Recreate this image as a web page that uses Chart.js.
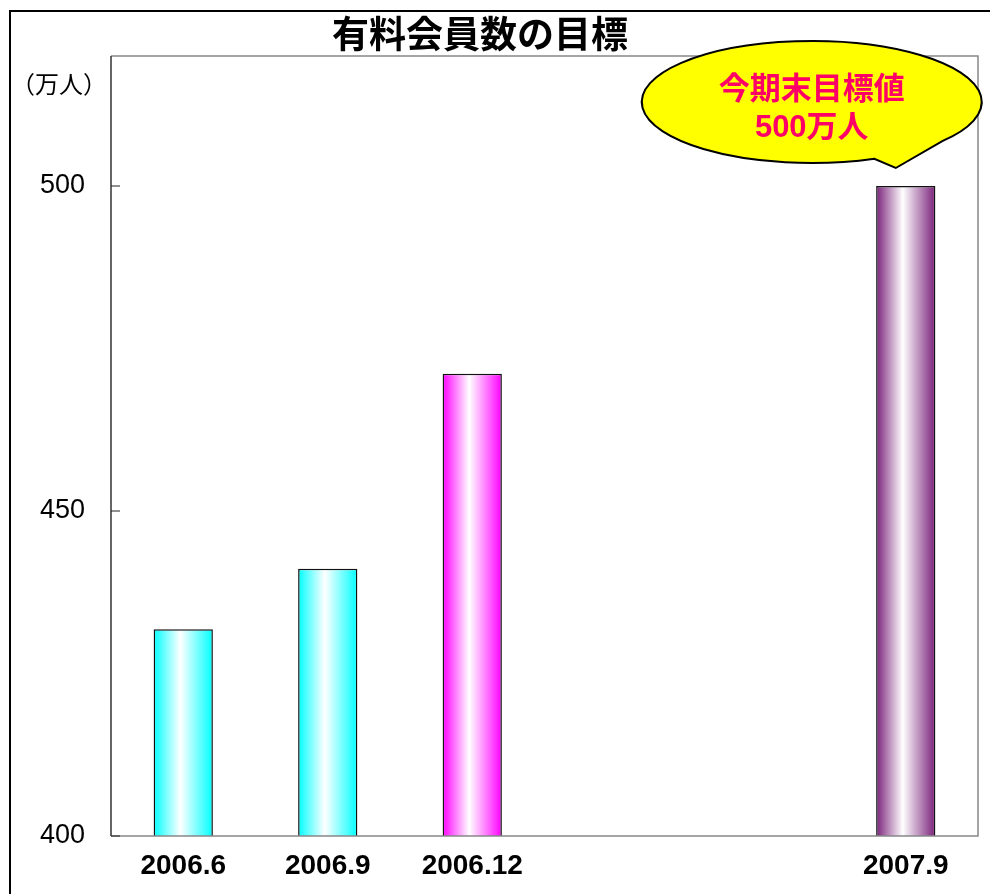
<!DOCTYPE html>
<html lang="ja">
<head>
  <meta charset="UTF-8">
  <title>有料会員数の目標</title>
  <script src="https://cdn.jsdelivr.net/npm/chart.js"></script>
  <style>
    html, body { margin: 0; padding: 0; background: #fff; }
    #wrap { position: relative; width: 990px; height: 894px; }
  </style>
</head>
<body>
  <div id="wrap"><canvas id="membersChart"></canvas></div>

  <script>
    const periods = ['2006.6', '2006.9', '2006.12', '', '', '2007.9'];
    const members = [431.8, 441.1, 471.1, null, null, 500];
    const barColors = ['#00FFFF', '#00FFFF', '#FF00FF', null, null, '#7A217A'];
    const yTicks = [400, 450, 500];
    const chartTitle = '有料会員数の目標';
    const unitLabel = '（万人）';
    const calloutLines = ['今期末目標値', '500万人'];

    const FONT = "'Liberation Sans', 'Noto Sans CJK JP', sans-serif";
    const BAR_PCT = 0.41;

    function barGradient(ctx) {
      const chart = ctx.chart;
      const xs = chart.scales.x;
      const base = barColors[ctx.dataIndex];
      if (!xs || !chart.chartArea || !base) return base || '#fff';
      const cx = xs.getPixelForValue(ctx.dataIndex);
      const half = (xs.width / periods.length) * BAR_PCT / 2;
      const g = chart.ctx.createLinearGradient(cx - half, 0, cx + half, 0);
      g.addColorStop(0, base);
      g.addColorStop(0.45, '#FFFFFF');
      g.addColorStop(1, base);
      return g;
    }

    // frame, plot box, inner ticks, unit label, title and callout bubble
    const decorations = {
      id: 'decorations',
      beforeDraw(chart) {
        const c = chart.ctx;
        c.save();
        c.strokeStyle = '#000';
        c.lineWidth = 2;
        c.beginPath();
        c.moveTo(10, 894);
        c.lineTo(10, 11);
        c.lineTo(990, 11);
        c.stroke();
        c.restore();
      },
      afterDatasetsDraw(chart) {
        const c = chart.ctx;
        const a = chart.chartArea;
        const ys = chart.scales.y;
        const xs = chart.scales.x;
        c.save();
        // plot box
        c.strokeStyle = '#888';
        c.lineWidth = 1.5;
        c.beginPath();
        c.moveTo(a.left, a.top);
        c.lineTo(a.right, a.top);
        c.lineTo(a.right, a.bottom);
        c.lineTo(a.left, a.bottom);
        c.stroke();
        c.strokeStyle = '#333';
        c.beginPath();
        c.moveTo(a.left, a.top);
        c.lineTo(a.left, a.bottom);
        c.stroke();
        // inner ticks
        c.strokeStyle = '#222';
        c.lineWidth = 1;
        yTicks.forEach(v => {
          const y = ys.getPixelForValue(v);
          c.beginPath();
          c.moveTo(a.left, y);
          c.lineTo(a.left + 9, y);
          c.stroke();
        });
        // unit label
        c.fillStyle = '#000';
        c.font = '24px ' + FONT;
        c.textAlign = 'right';
        c.textBaseline = 'middle';
        c.fillText(unitLabel, a.left - 4, 86);
        // title
        c.font = 'bold 37px ' + FONT;
        c.textAlign = 'center';
        c.fillText(chartTitle, 480, 38);
        // callout anchored to the last bar
        const i = members.length - 1;
        const bx = xs.getPixelForValue(i);
        const by = ys.getPixelForValue(members[i]);
        const ex = bx - 94, ey = by - 84;
        const rx = 170, ry = 61;
        c.beginPath();
        c.ellipse(ex, ey, rx, ry, 0, Math.PI * 0.22, Math.PI * 0.38, true);
        c.lineTo(bx - 10, by - 18);
        c.closePath();
        c.fillStyle = '#FFFF00';
        c.fill();
        c.strokeStyle = '#000';
        c.lineWidth = 2;
        c.stroke();
        c.fillStyle = '#FF0066';
        c.font = 'bold 31px ' + FONT;
        c.fillText(calloutLines[0], ex, ey - 12);
        c.fillText(calloutLines[1], ex, ey + 26);
        c.restore();
      }
    };

    new Chart(document.getElementById('membersChart'), {
      type: 'bar',
      data: {
        labels: periods,
        datasets: [{
          data: members,
          backgroundColor: barGradient,
          borderColor: '#111',
          borderWidth: 1.5,
          borderSkipped: false,
          barPercentage: BAR_PCT,
          categoryPercentage: 1
        }]
      },
      options: {
        responsive: true,
        maintainAspectRatio: false,
        animation: false,
        layout: { padding: { left: 10, top: 56, right: 12, bottom: 8 } },
        plugins: { legend: { display: false }, tooltip: { enabled: false } },
        scales: {
          x: {
            grid: { display: false, drawTicks: false },
            border: { display: false },
            ticks: { color: '#000', padding: 13, font: { family: FONT, size: 28, weight: 'bold' }, maxRotation: 0, autoSkip: false },
            afterFit(scale) { scale.height = 50; }
          },
          y: {
            min: 400,
            max: 520,
            grid: { display: false, drawTicks: false },
            border: { display: false },
            afterBuildTicks(scale) { scale.ticks = yTicks.map(v => ({ value: v })); },
            ticks: { color: '#000', padding: 26, font: { family: FONT, size: 27 } },
            afterFit(scale) { scale.width = 101; }
          }
        }
      },
      plugins: [decorations]
    });
  </script>
</body>
</html>
